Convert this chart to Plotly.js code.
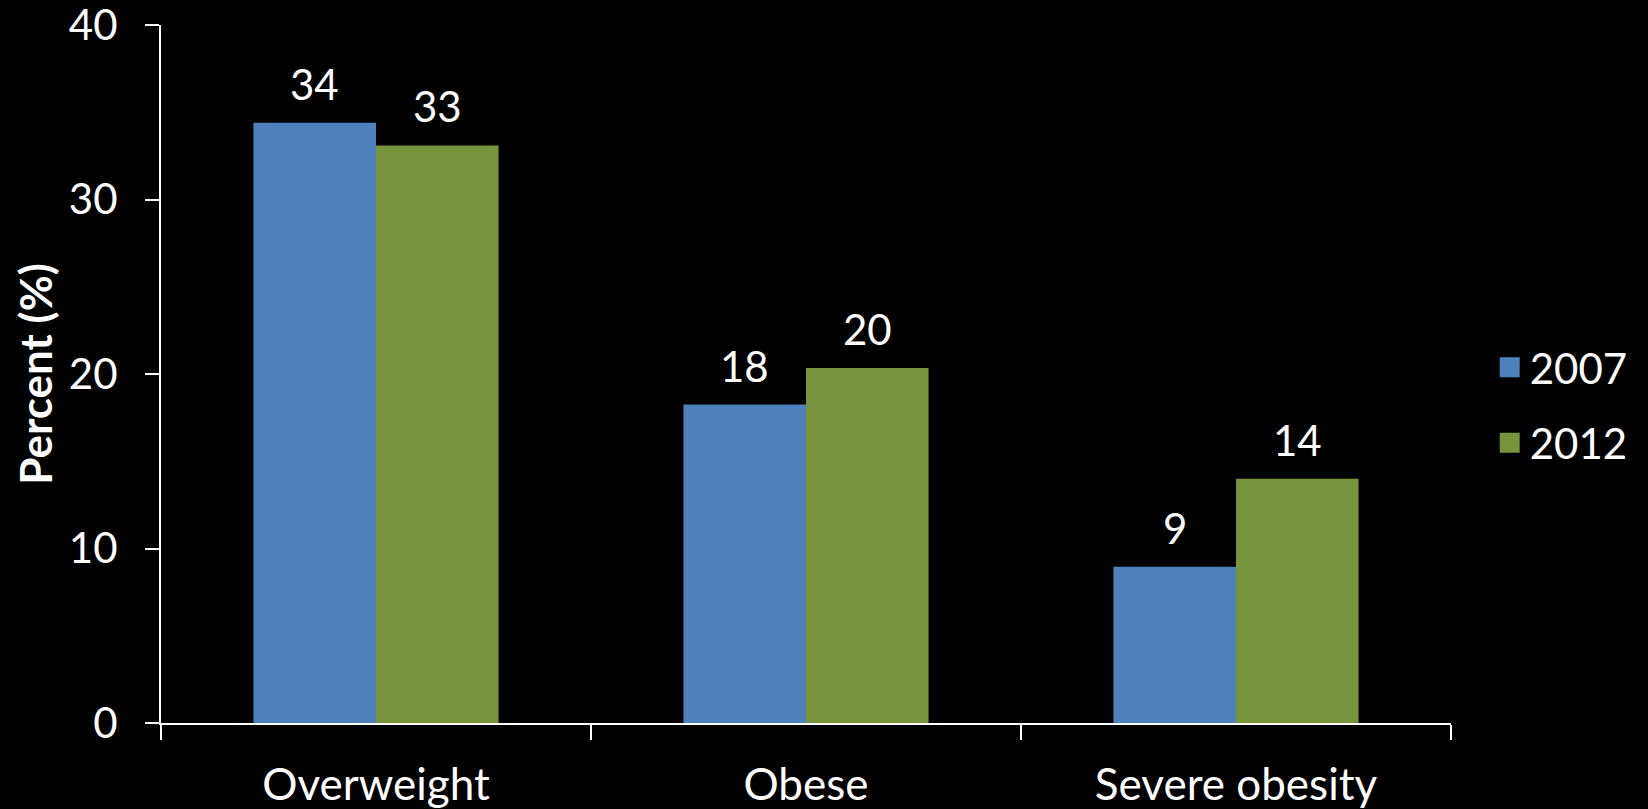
<!DOCTYPE html>
<html>
<head>
<meta charset="utf-8">
<script src="https://cdn.plot.ly/plotly-3.0.1.min.js"></script>
<style>html,body{margin:0;padding:0;background:#000;}#chart{width:1648px;height:809px;}</style>
</head>
<body>
<div id="chart"></div>
<script>
var categories = ["Overweight", "Obese", "Severe obesity"];
var seriesNames = ["2007", "2012"];
var values2007 = [34.4, 18.25, 8.95];
var values2012 = [33.1, 20.35, 14.0];
var yTickVals = [0, 10, 20, 30, 40];
var yTickText = ["0", "10", "20", "30", "40"];

var colors = ["#4F81BD", "#77933C"];
var FONT = "Lato, 'Open Sans', sans-serif";
var FS = 42;
var margin = {l: 161, r: 197, t: 25, b: 86};
var W = 1648, H = 809;
var bargap = 0.43;

var allValues = [values2007, values2012];
var traces = [];
allValues.forEach(function (vals, s) {
  traces.push({
    type: "bar", name: seriesNames[s], x: categories, y: vals,
    marker: {color: colors[s]}, showlegend: false, hoverinfo: "x+y"
  });
});
// legend entries
allValues.forEach(function (vals, s) {
  traces.push({
    type: "scatter", mode: "markers", name: seriesNames[s], x: [null], y: [null],
    marker: {symbol: "square", size: 16, color: colors[s], line: {color: colors[s], width: 4}},
    legendgroup: "g" + s, showlegend: true, hoverinfo: "skip"
  });
});

var plotW = W - margin.l - margin.r;
var catW = plotW / categories.length;
var barW = catW * (1 - bargap) / 2;
var annotations = [];
allValues.forEach(function (vals, s) {
  vals.forEach(function (v, i) {
    annotations.push({
      x: categories[i], y: v, xref: "x", yref: "y",
      text: String(Math.round(v)), showarrow: false,
      xanchor: "center", yanchor: "bottom",
      xshift: (s === 0 ? -1 : 1) * barW / 2, yshift: 12,
      font: {family: FONT, size: FS, color: "#ffffff"}
    });
  });
});

var layout = {
  width: W, height: H, margin: margin,
  paper_bgcolor: "#000000", plot_bgcolor: "#000000",
  barmode: "group", bargap: bargap, bargroupgap: 0,
  font: {family: FONT, color: "#ffffff", size: FS},
  showlegend: true,
  legend: {
    x: 1.03, xanchor: "left", y: 0.455, yanchor: "middle",
    font: {family: FONT, size: FS, color: "#ffffff"},
    bgcolor: "rgba(0,0,0,0)", tracegroupgap: 18, traceorder: "grouped"
  },
  xaxis: {
    type: "category", showline: true, linecolor: "#ffffff", linewidth: 2,
    ticks: "outside", tickson: "boundaries", ticklen: 15, tickwidth: 2, tickcolor: "#ffffff",
    tickfont: {family: FONT, size: 44, color: "#ffffff"},
    ticklabeloverflow: "allow",
    showgrid: false, zeroline: false, ticklabelstandoff: 22
  },
  yaxis: {
    range: [0, 40], tickvals: yTickVals, ticktext: yTickText,
    showline: true, linecolor: "#ffffff", linewidth: 2,
    ticks: "outside", ticklen: 14, tickwidth: 2, tickcolor: "#ffffff",
    tickfont: {family: FONT, size: FS, color: "#ffffff"},
    ticklabeloverflow: "allow",
    showgrid: false, zeroline: false, ticklabelstandoff: 19,
    title: {text: "<b>Percent (%)</b>", font: {family: FONT, size: 44, color: "#ffffff"}, standoff: 2}
  },
  annotations: annotations
};

Plotly.newPlot("chart", traces, layout, {displayModeBar: false, staticPlot: true});
</script>
</body>
</html>
